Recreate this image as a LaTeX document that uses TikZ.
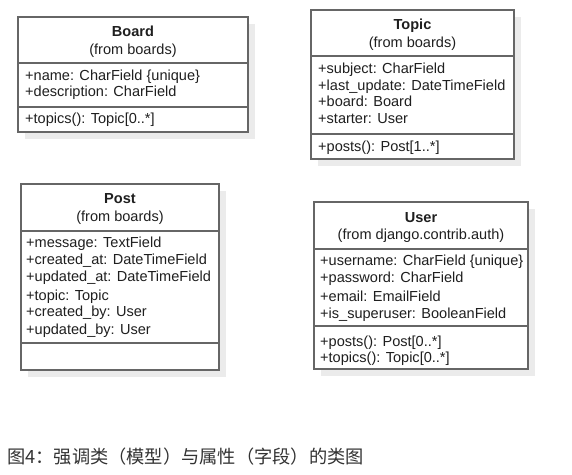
\documentclass[tikz,border=0pt]{standalone}
\usepackage{fontspec}
\setmainfont{Liberation Sans}
\newfontfamily\cjkfont{Noto Sans CJK SC}
\begin{document}
\begin{tikzpicture}[x=1bp,y=-1bp,
  shadowbox/.style={fill=black!8, draw=none},
  classbox/.style={draw=black!60, line width=1.2bp, fill=white},
  divline/.style={draw=black!60, line width=1.2bp},
  attr/.style={anchor=base west, inner sep=0pt, font=\fontsize{14.6}{17}\selectfont, text=black!88},
  titletxt/.style={anchor=base, inner sep=0pt, font=\bfseries\fontsize{14.6}{17}\selectfont, text=black!88},
  fromtxt/.style={anchor=base, inner sep=0pt, font=\fontsize{14.6}{17}\selectfont, text=black!88},
  captxt/.style={anchor=west, inner sep=0pt, font=\cjkfont\fontsize{18.3}{20}\selectfont, text=black!80}
]
\useasboundingbox (0,0) rectangle (572,475);

% ---------- Board ----------
\fill[shadowbox] (25,24) rectangle (255,139);
\draw[classbox] (18,17) rectangle (248,132);
\draw[divline] (18,63) -- (248,63);
\draw[divline] (18,107) -- (248,107);
\node[titletxt] (boardT) at (133,37) {Board};
\node[fromtxt] (boardF) at (133,55) {(from boards)};
\node[attr] (boardA1) at (25,81) {+name: CharField \{unique\}};
\node[attr] (boardA2) at (25,97) {+description: CharField};
\node[attr] (boardM1) at (25,124) {+topics(): Topic[0..*]};

% ---------- Topic ----------
\fill[shadowbox] (318,17) rectangle (521,166);
\draw[classbox] (311,10) rectangle (514,159);
\draw[divline] (311,56) -- (514,56);
\draw[divline] (311,134) -- (514,134);
\node[titletxt] (topicT) at (412.5,30) {Topic};
\node[fromtxt] (topicF) at (412.5,48) {(from boards)};
\node[attr] (topicA1) at (318,74) {+subject: CharField};
\node[attr] (topicA2) at (318,91) {+last\_update: DateTimeField};
\node[attr] (topicA3) at (318,107) {+board: Board};
\node[attr] (topicA4) at (318,124) {+starter: User};
\node[attr] (topicM1) at (318,152) {+posts(): Post[1..*]};

% ---------- Post ----------
\fill[shadowbox] (28,191) rectangle (226,377);
\draw[classbox] (21,184) rectangle (219,370);
\draw[divline] (21,231) -- (219,231);
\draw[divline] (21,343) -- (219,343);
\node[titletxt] (postT) at (120,204) {Post};
\node[fromtxt] (postF) at (120,222) {(from boards)};
\node[attr] (postA1) at (26,248) {+message: TextField};
\node[attr] (postA2) at (26,265) {+created\_at: DateTimeField};
\node[attr] (postA3) at (26,282) {+updated\_at: DateTimeField};
\node[attr] (postA4) at (26,300) {+topic: Topic};
\node[attr] (postA5) at (26,316) {+created\_by: User};
\node[attr] (postA6) at (26,334) {+updated\_by: User};

% ---------- User ----------
\fill[shadowbox] (321,209) rectangle (535,376);
\draw[classbox] (314,202) rectangle (528,369);
\draw[divline] (314,249) -- (528,249);
\draw[divline] (314,326) -- (528,326);
\node[titletxt] (userT) at (421,223) {User};
\node[fromtxt] (userF) at (421,240) {(from django.contrib.auth)};
\node[attr] (userA1) at (320,266) {+username: CharField \{unique\}};
\node[attr] (userA2) at (320,283) {+password: CharField};
\node[attr] (userA3) at (320,301) {+email: EmailField};
\node[attr] (userA4) at (320,318) {+is\_superuser: BooleanField};
\node[attr] (userM1) at (320,346) {+posts(): Post[0..*]};
\node[attr] (userM2) at (320,362) {+topics(): Topic[0..*]};

% ---------- caption ----------
\node[captxt] (caption) at (7,457) {图4：强调类（模型）与属性（字段）的类图};
\end{tikzpicture}
\end{document}
